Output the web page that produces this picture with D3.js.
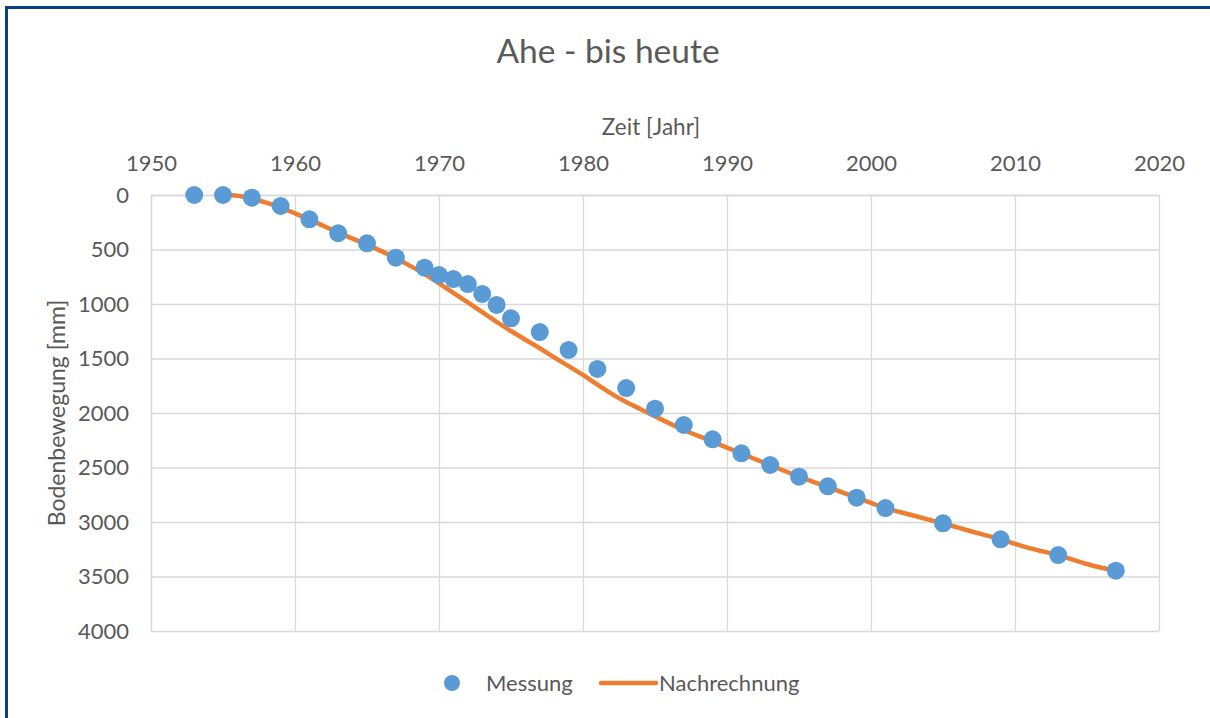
<!DOCTYPE html>
<html>
<head>
<meta charset="utf-8">
<script src="https://cdn.jsdelivr.net/npm/d3@7"></script>
<style>
  body { margin: 0; background: #fff; }
  text { font-family: Lato, "Open Sans", sans-serif; fill: #595959; }
</style>
</head>
<body>
<div id="chart-area"></div>
<script>
// Messung (measured points)
var mYears = [1953, 1955, 1957, 1959, 1961, 1963, 1965, 1967, 1969, 1970, 1971, 1972, 1973, 1974, 1975,
  1977, 1979, 1981, 1983, 1985, 1987, 1989, 1991, 1993, 1995, 1997, 1999, 2001, 2005, 2009, 2013, 2017];
var mValues = [0, 0, 25, 101, 223, 351, 443, 575, 667, 734, 771, 817, 908, 1009, 1131,
  1258, 1422, 1596, 1771, 1960, 2110, 2241, 2370, 2477, 2584, 2673, 2777, 2872, 3012, 3159, 3303, 3447];

// Nachrechnung (calculated curve)
var nYears = [1955, 1956, 1957, 1958, 1959, 1960, 1961, 1962, 1963, 1964, 1965, 1966, 1967, 1968, 1969,
  1970, 1971, 1972, 1973, 1974, 1975, 1976, 1977, 1978, 1979, 1980, 1981, 1982, 1983, 1984, 1985, 1986,
  1987, 1988, 1989, 1990, 1991, 1992, 1993, 1994, 1995, 1996, 1997, 1998, 1999, 2000, 2001, 2002, 2003,
  2004, 2005, 2006, 2007, 2008, 2009, 2010, 2011, 2012, 2013, 2014, 2015, 2016, 2017];
var nValues = [0, 6, 35, 70, 115, 168, 225, 285, 345, 400, 455, 515, 580, 650, 725,
  810, 898, 985, 1075, 1165, 1248, 1328, 1406, 1490, 1570, 1651, 1740, 1825, 1900, 1965, 2030, 2095,
  2156, 2210, 2263, 2318, 2370, 2425, 2478, 2532, 2584, 2632, 2678, 2728, 2777, 2825, 2872, 2908, 2943,
  2978, 3012, 3050, 3087, 3123, 3159, 3200, 3240, 3272, 3303, 3345, 3385, 3420, 3447];

var xTicks = [1950, 1960, 1970, 1980, 1990, 2000, 2010, 2020];
var yTicks = [0, 500, 1000, 1500, 2000, 2500, 3000, 3500, 4000];

var W = 1210, H = 718;
var plot = {left: 151, right: 1159, top: 195, bottom: 631};

var svg = d3.select("#chart-area").append("svg")
	.attr("width", W)
	.attr("height", H);

// outer frame
svg.append("rect")
	.attr("x", 6.5).attr("y", 7.5)
	.attr("width", W + 20).attr("height", H + 20)
	.attr("fill", "none")
	.attr("stroke", "#0b3f7c")
	.attr("stroke-width", 3);

var x = d3.scaleLinear().domain([1950, 2020]).range([plot.left, plot.right]);
var y = d3.scaleLinear().domain([0, 4000]).range([plot.top, plot.bottom]);

var xAxis = d3.axisTop(x).tickValues(xTicks).tickFormat(d3.format("d"))
	.tickSizeInner(-(plot.bottom - plot.top)).tickSizeOuter(0).tickPadding(24);
var yAxis = d3.axisLeft(y).tickValues(yTicks).tickFormat(d3.format("d"))
	.tickSizeInner(-(plot.right - plot.left)).tickSizeOuter(0).tickPadding(22);

var gx = svg.append("g").attr("transform", "translate(0," + plot.top + ")").call(xAxis);
var gy = svg.append("g").attr("transform", "translate(" + plot.left + ",0)").call(yAxis);

[gx, gy].forEach(function(g) {
	g.selectAll("line").attr("stroke", "#d9d9d9").attr("stroke-width", 1.3);
	g.select(".domain").attr("stroke", "#d9d9d9").attr("stroke-width", 1.3);
	g.selectAll("text").attr("font-size", "22px").attr("fill", "#595959")
		.style("font-family", "Lato, 'Open Sans', sans-serif");
});

// calculated line
var nData = nYears.map(function(d, i) { return {year: d, value: nValues[i]}; });
var line = d3.line()
	.x(function(d) { return x(d.year); })
	.y(function(d) { return y(d.value); })
	.curve(d3.curveMonotoneX);

svg.append("path")
	.datum(nData)
	.attr("d", line)
	.attr("fill", "none")
	.attr("stroke", "#ed7d31")
	.attr("stroke-width", 4.5)
	.attr("stroke-linejoin", "round")
	.attr("stroke-linecap", "round");

// measured points
var mData = mYears.map(function(d, i) { return {year: d, value: mValues[i]}; });
svg.selectAll("circle.m")
	.data(mData)
	.enter().append("circle")
	.attr("class", "m")
	.attr("cx", function(d) { return x(d.year); })
	.attr("cy", function(d) { return y(d.value); })
	.attr("r", 9)
	.attr("fill", "#5b9bd5");

// titles
svg.append("text")
	.attr("x", 608).attr("y", 63)
	.attr("text-anchor", "middle")
	.attr("font-size", "33.5px")
	.text("Ahe - bis heute");

svg.append("text")
	.attr("x", 651).attr("y", 135)
	.attr("text-anchor", "middle")
	.attr("font-size", "22.5px")
	.text("Zeit [Jahr]");

svg.append("text")
	.attr("transform", "translate(65," + ((plot.top + plot.bottom) / 2) + ") rotate(-90)")
	.attr("text-anchor", "middle")
	.attr("font-size", "23px")
	.text("Bodenbewegung [mm]");

// legend
var lg = svg.append("g");
lg.append("circle").attr("cx", 452).attr("cy", 683).attr("r", 8).attr("fill", "#5b9bd5");
lg.append("text").attr("x", 486).attr("y", 691).attr("font-size", "22px").text("Messung");
lg.append("line").attr("x1", 601).attr("x2", 656).attr("y1", 683).attr("y2", 683)
	.attr("stroke", "#ed7d31").attr("stroke-width", 4.5).attr("stroke-linecap", "round");
lg.append("text").attr("x", 659).attr("y", 691).attr("font-size", "22px").text("Nachrechnung");
</script>
</body>
</html>
